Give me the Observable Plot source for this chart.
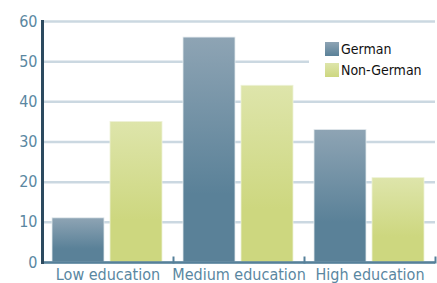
<!DOCTYPE html>
<html><head><meta charset="utf-8">
<script src="https://cdn.jsdelivr.net/npm/d3@7"></script>
<script src="https://cdn.jsdelivr.net/npm/@observablehq/plot@0.6"></script>
<style>
body{margin:0;background:#fff;}
#wrap{position:relative;width:437px;height:283px;font-family:"DejaVu Sans Condensed","DejaVu Sans",sans-serif;font-stretch:condensed;}
#legend{position:absolute;left:309px;top:32px;width:126px;height:54px;background:#fff;}
.item{position:absolute;left:16px;display:flex;align-items:center;font-size:14px;color:#111;}
.sw{width:14px;height:14px;margin-right:2px;}
</style></head>
<body><div id="wrap"></div>
<script>
const groups = ["Low education", "Medium education", "High education"];
const series = ["German", "Non-German"];
const german = [11, 56, 33];
const nonGerman = [35, 44, 21];
const yTicks = [0, 10, 20, 30, 40, 50, 60];

const data = groups.flatMap((g, i) => [
  {group: g, series: series[0], value: german[i]},
  {group: g, series: series[1], value: nonGerman[i]}
]);

const grad = {
  German: ["#8ea4b4", "#5a8198"],
  "Non-German": ["#dee5ab", "#cdd77f"]
};
const ids = {German: "gradG", "Non-German": "gradN"};

const chart = Plot.plot({
  width: 437,
  height: 283,
  marginLeft: 41,
  marginRight: 2,
  marginTop: 21,
  marginBottom: 21,
  style: {fontFamily: '"DejaVu Sans Condensed","DejaVu Sans",sans-serif', fontSize: "16px", background: "#fff"},
  fx: {domain: groups, padding: 0, label: null},
  x: {domain: series, axis: null, paddingInner: 0.1, paddingOuter: 0.165},
  y: {domain: [0, 60], label: null, axis: null},
  marks: [
    Plot.gridY(yTicks, {stroke: "#cbd8e1", strokeOpacity: 1, strokeWidth: 2.5}),
    Plot.barY(data.filter(d => d.series === series[0]), {fx: "group", x: "series", y: "value", fill: "url(#gradG)", stroke: "#e4eaee", strokeWidth: 0.8}),
    Plot.barY(data.filter(d => d.series === series[1]), {fx: "group", x: "series", y: "value", fill: "url(#gradN)", stroke: "#eef2d8", strokeWidth: 0.8}),
    Plot.ruleY([0], {stroke: "#56809a", strokeWidth: 2.5}),
    Plot.frame({anchor: "right", insetTop: 236, stroke: "#56809a", strokeWidth: 2}),
    Plot.frame({anchor: "left", facetAnchor: "left", stroke: "#2c4a5f", strokeWidth: 3}),
    Plot.axisY(yTicks, {tickSize: 0, tickPadding: 5, fill: "#5a87a1", fontSize: 16}),
    Plot.axisFx({anchor: "bottom", tickSize: 0, tickPadding: 6, fill: "#5a87a1", fontSize: 16, label: null})
  ]
});

const svg = d3.select(chart);
const defs = svg.insert("defs", ":first-child");
for (const s of series) {
  const lg = defs.append("linearGradient").attr("id", ids[s]).attr("x1", 0).attr("y1", 0).attr("x2", 0).attr("y2", 1);
  lg.append("stop").attr("offset", "0%").attr("stop-color", grad[s][0]);
  lg.append("stop").attr("offset", "70%").attr("stop-color", grad[s][1]);
  lg.append("stop").attr("offset", "100%").attr("stop-color", grad[s][1]);
}

const wrap = document.getElementById("wrap");
wrap.appendChild(chart);

const legend = document.createElement("div");
legend.id = "legend";
series.forEach((s, i) => {
  const it = document.createElement("div");
  it.className = "item";
  it.style.top = (9 + i * 21) + "px";
  const sw = document.createElement("div");
  sw.className = "sw";
  sw.style.background = `linear-gradient(${grad[s][0]}, ${grad[s][1]})`;
  const t = document.createElement("span");
  t.textContent = s;
  it.appendChild(sw); it.appendChild(t);
  legend.appendChild(it);
});
wrap.appendChild(legend);
</script></body></html>
